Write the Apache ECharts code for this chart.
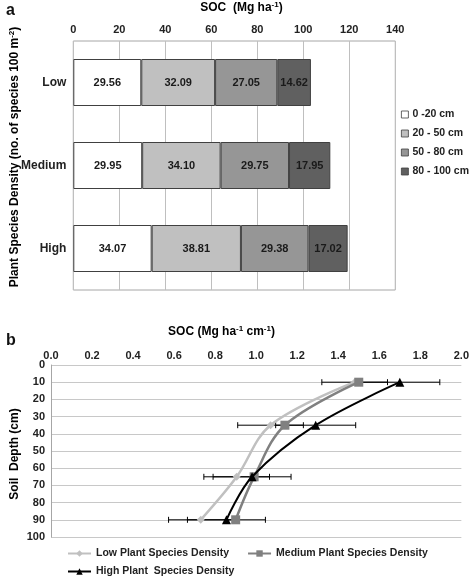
<!DOCTYPE html>
<html><head><meta charset="utf-8">
<script src="https://cdn.jsdelivr.net/npm/echarts@6/dist/echarts.min.js"></script>
<style>html,body{margin:0;padding:0;background:#fff}#c{width:472px;height:576px}</style>
</head><body><div id="c"></div>
<script>
// Panel a data
const densityCats = ['Low', 'Medium', 'High'];
const layerNames = ['0 -20 cm', '20 - 50 cm', '50 - 80 cm', '80 - 100 cm'];
const layer0_20 = [29.56, 29.95, 34.07];
const layer20_50 = [32.09, 34.10, 38.81];
const layer50_80 = [27.05, 29.75, 29.38];
const layer80_100 = [14.62, 17.95, 17.02];
const socTicksA = [0, 140, 20];

// Panel b data
const depths = [10, 35, 65, 90];
const lowDensity = [1.48, 1.07, 0.905, 0.73];
const mediumDensity = [1.50, 1.14, 0.99, 0.90];
const highDensity = [1.70, 1.29, 0.98, 0.855];
const lowErr = [0.16, 0.16, 0.16, 0.157];
const highErr = [0.195, 0.195, 0.19, 0.19];
const lineNames = ['Low Plant Species Density', 'Medium Plant Species Density', 'High Plant  Species Density'];

const FONT = '"Liberation Sans", Arial, sans-serif';
const layers = [layer0_20, layer20_50, layer50_80, layer80_100];
const layerColors = ['#ffffff', '#c0c0c0', '#969696', '#606060'];

const chart = echarts.init(document.getElementById('c'), null, {renderer: 'canvas'});

function pts(vals) { return vals.map((v, i) => [v, depths[i]]); }
function errData(vals, errs) { return vals.map((v, i) => [v - errs[i], v + errs[i], depths[i]]); }

function errRender(params, api) {
  const lo = api.coord([api.value(0), api.value(2)]);
  const hi = api.coord([api.value(1), api.value(2)]);
  const h = 3;
  const st = {stroke: '#000', lineWidth: 1};
  return {type: 'group', children: [
    {type: 'line', shape: {x1: lo[0], y1: lo[1], x2: hi[0], y2: hi[1]}, style: st},
    {type: 'line', shape: {x1: lo[0], y1: lo[1] - h, x2: lo[0], y2: lo[1] + h}, style: st},
    {type: 'line', shape: {x1: hi[0], y1: hi[1] - h, x2: hi[0], y2: hi[1] + h}, style: st}
  ]};
}

const barSeries = layers.map((arr, k) => ({
  type: 'bar', name: layerNames[k], stack: 'soc', xAxisIndex: 0, yAxisIndex: 0,
  data: arr, barWidth: 47,
  itemStyle: {color: layerColors[k], borderColor: '#404040', borderWidth: 1},
  label: {show: true, position: 'inside', fontFamily: FONT, fontWeight: 'bold', fontSize: 11, color: '#1a1a1a',
    formatter: p => p.value.toFixed(2)},
  emphasis: {disabled: true}
}));

const lineStyleCfg = [
  {color: '#c0c0c0', symbol: 'diamond', size: 8, width: 2.5},
  {color: '#808080', symbol: 'rect', size: 9, width: 2.5},
  {color: '#000000', symbol: 'triangle', size: 9, width: 2}
];
const lineData = [lowDensity, mediumDensity, highDensity];
const lineSeries = lineData.map((vals, k) => ({
  type: 'line', name: lineNames[k], xAxisIndex: 1, yAxisIndex: 1,
  data: pts(vals), smooth: 0.35, symbol: lineStyleCfg[k].symbol, symbolSize: lineStyleCfg[k].size,
  showAllSymbol: true, z: 3 + k,
  lineStyle: {color: lineStyleCfg[k].color, width: lineStyleCfg[k].width},
  itemStyle: {color: lineStyleCfg[k].color},
  emphasis: {disabled: true}
}));

const errSeries = [
  {type: 'custom', name: 'errLow', xAxisIndex: 1, yAxisIndex: 1, renderItem: errRender,
   encode: {x: [0, 1], y: 2}, data: errData(lowDensity, lowErr), z: 2, silent: true},
  {type: 'custom', name: 'errHigh', xAxisIndex: 1, yAxisIndex: 1, renderItem: errRender,
   encode: {x: [0, 1], y: 2}, data: errData(highDensity, highErr), z: 2, silent: true}
];

const boldLabel = {fontFamily: FONT, fontWeight: 'bold', fontSize: 11, color: '#222'};
const supRich = {
  n: {fontFamily: FONT, fontWeight: 'bold', fontSize: 12, color: '#222', lineHeight: 14},
  s: {fontFamily: FONT, fontWeight: 'bold', fontSize: 8, color: '#222', lineHeight: 14, padding: [0, 0, 6, 0]}
};
const legText = {fontFamily: FONT, fontWeight: 'bold', fontSize: 10.5, color: '#222'};

chart.setOption({
  animation: false,
  backgroundColor: '#ffffff',
  textStyle: {fontFamily: FONT},
  grid: [
    {left: 73.3, top: 41, width: 322, height: 249, show: true, borderColor: '#a6a6a6', borderWidth: 1, backgroundColor: 'transparent'},
    {left: 51, top: 365, width: 412, height: 172}
  ],
  xAxis: [
    {type: 'value', gridIndex: 0, position: 'top', min: socTicksA[0], max: socTicksA[1], interval: socTicksA[2],
     axisLine: {show: false}, axisTick: {show: false},
     axisLabel: Object.assign({margin: 6}, boldLabel),
     splitLine: {show: true, lineStyle: {color: '#bfbfbf', width: 1}}},
    {type: 'value', gridIndex: 1, position: 'top', min: 0, max: 2, interval: 0.2,
     axisLine: {show: false}, axisTick: {show: false},
     axisLabel: Object.assign({margin: 4, formatter: v => v.toFixed(1)}, boldLabel),
     splitLine: {show: false}}
  ],
  yAxis: [
    {type: 'category', gridIndex: 0, data: densityCats, inverse: true,
     axisLine: {show: false}, axisTick: {show: false},
     axisLabel: {margin: 7, fontFamily: FONT, fontWeight: 'bold', fontSize: 12, color: '#222'}},
    {type: 'value', gridIndex: 1, inverse: true, min: 0, max: 100, interval: 10,
     axisLine: {show: true, lineStyle: {color: '#a6a6a6'}}, axisTick: {show: false},
     axisLabel: Object.assign({margin: 6}, boldLabel),
     splitLine: {show: true, lineStyle: {color: '#c8c8c8', width: 1}}}
  ],
  legend: [
    {orient: 'vertical', left: 396, top: 103, data: layerNames, icon: 'rect', itemWidth: 7, itemHeight: 7,
     itemGap: 6, selectedMode: false,
     itemStyle: {borderWidth: 0.8, borderColor: '#404040'},
     textStyle: Object.assign({lineHeight: 13, padding: [0, 0, 0, -1]}, legText)},
    {orient: 'horizontal', left: 62, top: 543, data: [lineNames[0], lineNames[1]], itemWidth: 23, itemHeight: 8,
     itemGap: 18, selectedMode: false, textStyle: legText},
    {orient: 'horizontal', left: 62, top: 561, data: [lineNames[2]], itemWidth: 23, itemHeight: 8,
     selectedMode: false, textStyle: legText}
  ],
  graphic: [
    {type: 'text', left: 6, top: 3, style: {text: 'a', font: 'bold 16px ' + FONT, fill: '#111'}},
    {type: 'text', left: 6, top: 333, style: {text: 'b', font: 'bold 16px ' + FONT, fill: '#111'}},
    {type: 'text', x: 241.5, y: 8, style: {text: '{n|SOC  (Mg ha}{s|-1}{n|)}', rich: supRich, align: 'center', verticalAlign: 'middle'}},
    {type: 'text', x: 221.5, y: 332, style: {text: '{n|SOC (Mg ha}{s|-1}{n| cm}{s|-1}{n|)}', rich: supRich, align: 'center', verticalAlign: 'middle'}},
    {type: 'text', x: 14.5, y: 157, rotation: Math.PI / 2,
     style: {text: '{n|Plant Species Density (no. of species 100 m}{s|-2}{n|)}', rich: supRich, align: 'center', verticalAlign: 'middle'}},
    {type: 'text', x: 14.5, y: 454, rotation: Math.PI / 2,
     style: {text: '{n|Soil  Depth (cm)}', rich: supRich, align: 'center', verticalAlign: 'middle'}}
  ],
  series: barSeries.concat(errSeries, lineSeries)
});
</script></body></html>
